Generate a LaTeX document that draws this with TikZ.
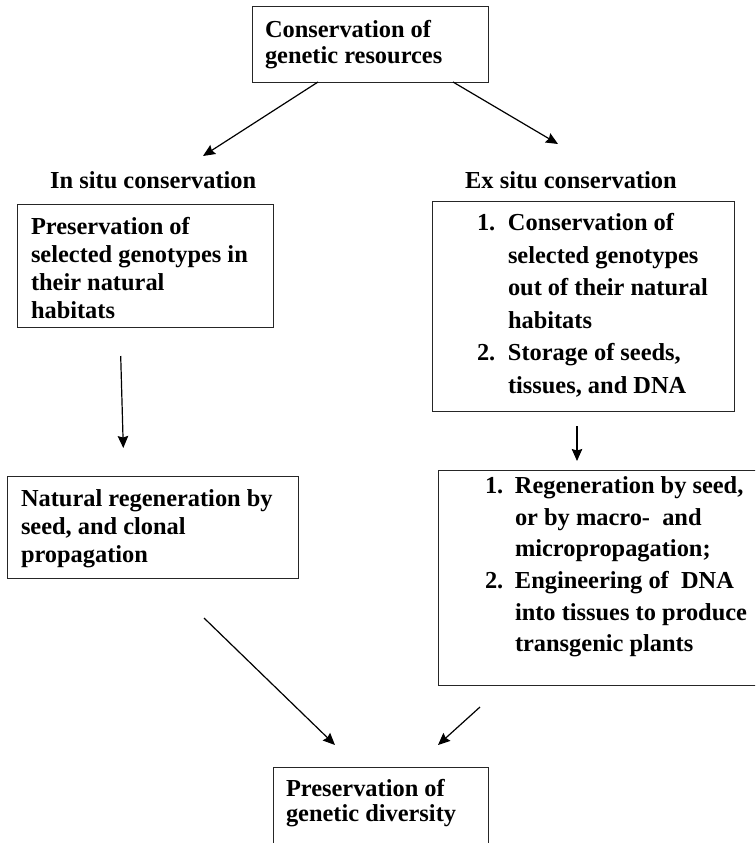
\documentclass[tikz,border=0pt]{standalone}
\usepackage{fontspec}
\setmainfont{Liberation Serif}
\usetikzlibrary{arrows.meta}
% #1 width, #2 height, #3 first baseline below top, #4 baselineskip, #5 left padding, #6 text
\newcommand{\boxbody}[6]{\begin{minipage}[t][#2][t]{#1}\fontsize{24.4}{#4}\selectfont\bfseries\raggedright\setlength{\leftskip}{#5}\rule{0pt}{#3}#6\par\end{minipage}}
\newcommand{\itemno}[2]{\hspace*{-#1}\makebox[#1][l]{#2}}
\begin{document}
\begin{tikzpicture}[x=1pt,y=-1pt,
  box/.style={draw=black!85, line width=1pt, inner sep=0pt, outer sep=0pt, anchor=north west},
  lbl/.style={inner sep=0pt, anchor=base west, font=\fontsize{24.4}{28}\selectfont\bfseries},
  arr/.style={line width=1.2pt, -{Stealth[length=12pt,width=10.5pt,inset=1.5pt]}}]
\useasboundingbox (0,0) rectangle (755,843);
\clip (0,0) rectangle (755,843);

\node[box] (top) at (252,7) {\boxbody{236pt}{75pt}{30.3pt}{26pt}{13pt}{Conservation of\\genetic resources}};

\node[lbl] (insitu) at (50,188.3) {In situ conservation};
\node[lbl] (exsitu) at (465,188.3) {Ex situ conservation};

\node[box] (pres) at (17,204) {\boxbody{256pt}{123pt}{30.3pt}{28pt}{14pt}{Preservation of\\selected genotypes in\\their natural\\habitats}};

\node[box] (cons) at (432,201) {\boxbody{302pt}{210pt}{29.7pt}{32.5pt}{76pt}{\itemno{31pt}{1.}Conservation of\\selected genotypes\\out of their natural\\habitats\\\itemno{31pt}{2.}Storage of seeds,\\tissues, and DNA}};

\node[box] (natreg) at (7,476) {\boxbody{291pt}{102pt}{30pt}{28pt}{14pt}{Natural regeneration by\\seed, and clonal\\propagation}};

\node[box] (regen) at (438,470) {\boxbody{330pt}{215pt}{23.3pt}{31.7pt}{77pt}{\itemno{30pt}{1.}Regeneration by seed,\\or by macro-~ and\\micropropagation;\\\itemno{30pt}{2.}Engineering of~ DNA\\into tissues to produce\\transgenic plants}};

\node[box] (div) at (273,767) {\boxbody{215pt}{90pt}{29.7pt}{25pt}{13pt}{Preservation of\\genetic diversity}};

\coordinate (a1s) at (318,82);   \coordinate (a1e) at (203,156);
\coordinate (a2s) at (453,82);   \coordinate (a2e) at (558,144);
\coordinate (a3s) at (120.7,356); \coordinate (a3e) at (123.3,448);
\coordinate (a4s) at (577,426);  \coordinate (a4e) at (577,461);
\coordinate (a5s) at (204,618);  \coordinate (a5e) at (335,745);
\coordinate (a6s) at (480,707);  \coordinate (a6e) at (438,745);

\draw[arr] (a1s) -- (a1e);
\draw[arr] (a2s) -- (a2e);
\draw[arr] (a3s) -- (a3e);
\draw[arr] (a4s) -- (a4e);
\draw[arr] (a5s) -- (a5e);
\draw[arr] (a6s) -- (a6e);
\end{tikzpicture}
\end{document}
